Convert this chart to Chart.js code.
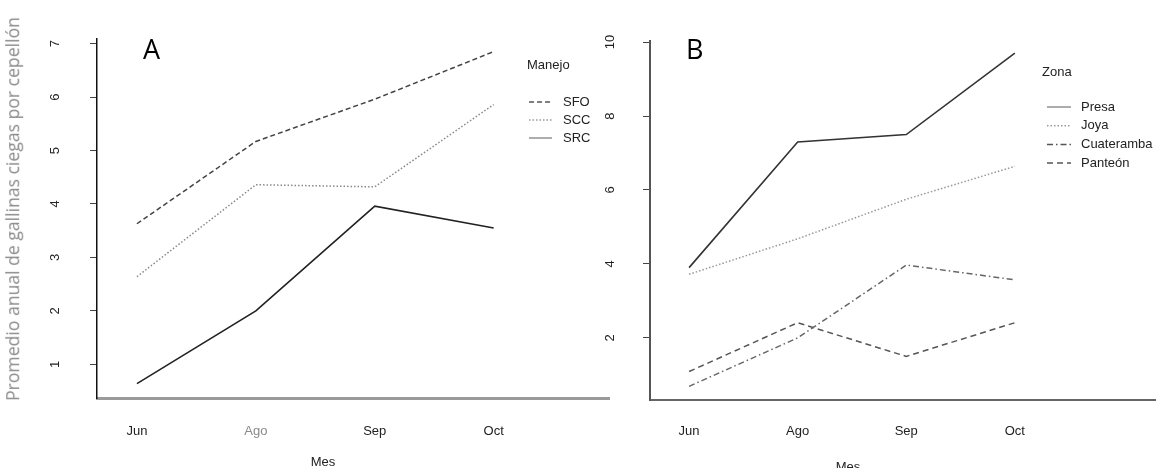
<!DOCTYPE html>
<html>
<head>
<meta charset="utf-8">
<script src="https://cdn.jsdelivr.net/npm/chart.js@4.4.1/dist/chart.umd.min.js"></script>
<style>
    body { margin: 0; background: #fff; width: 1156px; height: 468px; overflow: hidden; position: relative; }
    .panel { position: absolute; top: 0; }
    .txt { position: absolute; white-space: nowrap; }
    .letter { font-family: "Open Sans", sans-serif; font-size: 27px; line-height: 27px; color: #000; }
    .mes { line-height: 1; color: #222; transform: translate(-50%, -50%); }
    .ytitle { font-family: "Open Sans", sans-serif; font-size: 17.6px; line-height: 1; color: #8a8a8a; transform: translate(-50%, -50%) rotate(-90deg); }
</style>
</head>
<body>
<div class="panel" style="left:0;width:620px;height:468px"><canvas id="chartA" width="620" height="468"></canvas></div>
<div class="panel" style="left:580px;width:576px;height:468px"><canvas id="chartB" width="576" height="468"></canvas></div>
<div class="txt letter" style="left:143px;top:35px">A</div>
<div class="txt letter" style="left:686px;top:35px">B</div>
<div class="txt mes" style="left:323px;top:461px">Mes</div>
<div class="txt mes" style="left:848px;top:466px">Mes</div>
<div class="txt ytitle" style="left:13px;top:209px">Promedio anual de gallinas ciegas por cepellón</div>

<script>
// Meses (eje x)
const months = ['Jun', 'Ago', 'Sep', 'Oct'];

// Panel A - Manejo
const manejoLabels = ['SFO', 'SCC', 'SRC'];
const sfo = [3.63, 5.17, 5.96, 6.85];
const scc = [2.64, 4.36, 4.32, 5.86];
const src = [0.64, 2.0, 3.96, 3.55];
const yTicksA = [1, 2, 3, 4, 5, 6, 7];

// Panel B - Zona
const zonaLabels = ['Presa', 'Joya', 'Cuateramba', 'Panteón'];
const presa = [3.9, 7.3, 7.5, 9.7];
const joya = [3.72, 4.68, 5.75, 6.64];
const cuateramba = [0.69, 2.0, 3.97, 3.57];
const panteon = [1.09, 2.41, 1.5, 2.41];
const yTicksB = [2, 4, 6, 8, 10];

// Schmale Schrift nur nehmen, wenn sie wirklich installiert ist
function hasFont(name) {
    const c = document.createElement('canvas').getContext('2d');
    const s = 'Cuateramba Manejo 0123';
    c.font = '40px monospace';
    const a = c.measureText(s).width;
    c.font = '40px "' + name + '", monospace';
    return c.measureText(s).width !== a;
}
const narrowOk = hasFont('Liberation Sans Narrow');
const narrow = narrowOk ? '"Liberation Sans Narrow", sans-serif' : '"Liberation Sans", sans-serif';
const labelSize = narrowOk ? 15 : 13;

document.querySelectorAll('.mes').forEach(el => {
    el.style.fontFamily = narrow;
    el.style.fontSize = labelSize + 'px';
});

// Legende innerhalb der Zeichenfläche (wie in R)
const insideLegend = {
    id: 'insideLegend',
    afterDraw(chart, args, opts) {
        if (!opts || !opts.title) return;
        const ctx = chart.ctx;
        ctx.save();
        ctx.font = labelSize + 'px ' + narrow;
        ctx.fillStyle = '#222';
        ctx.textBaseline = 'middle';
        ctx.textAlign = 'left';
        ctx.fillText(opts.title, opts.x, opts.titleY);
        chart.data.datasets.forEach((ds, i) => {
            const y = opts.y + i * opts.rowH;
            ctx.beginPath();
            ctx.setLineDash(ds.borderDash || []);
            ctx.strokeStyle = opts.sampleColor[i] || ds.borderColor;
            ctx.lineWidth = ds.borderWidth;
            ctx.moveTo(opts.sampleX, y);
            ctx.lineTo(opts.sampleX + opts.sampleW, y);
            ctx.stroke();
            ctx.setLineDash([]);
            ctx.fillText(ds.label, opts.textX, y);
        });
        ctx.restore();
    }
};

function toPoints(values) {
    return values.map((v, i) => ({ x: i + 1, y: v }));
}

function lineSet(label, values, color, dash, width) {
    return {
        label: label,
        data: toPoints(values),
        borderColor: color,
        borderDash: dash,
        borderWidth: width,
        pointRadius: 0,
        tension: 0,
        fill: false
    };
}

function xScale(min, max, height, pad, border) {
    return {
        type: 'linear',
        min: min,
        max: max,
        afterBuildTicks: s => { s.ticks = months.map((m, i) => ({ value: i + 1 })); },
        afterFit: s => { s.height = height; },
        ticks: {
            autoSkip: false,
            maxRotation: 0,
            padding: pad,
            font: { family: narrow, size: labelSize },
            color: border.agoGray ? (c => c.index === 1 ? '#8a8a8a' : '#222') : '#222',
            callback: v => months[v - 1]
        },
        grid: { display: false, drawTicks: false },
        border: { display: true, color: border.color, width: border.width }
    };
}

function yScale(min, max, ticksArr, width, pad, border) {
    return {
        type: 'linear',
        min: min,
        max: max,
        afterBuildTicks: s => { s.ticks = ticksArr.map(v => ({ value: v })); },
        afterFit: s => { s.width = width; },
        ticks: {
            minRotation: 90,
            maxRotation: 90,
            crossAlign: 'center',
            padding: pad,
            font: { family: narrow, size: labelSize },
            color: '#222'
        },
        grid: { display: true, drawOnChartArea: false, drawTicks: true, tickLength: 7, color: '#444', lineWidth: 1 },
        border: { display: true, color: border.color, width: border.width }
    };
}

// Panel A
new Chart(document.getElementById('chartA'), {
    type: 'line',
    data: {
        datasets: [
            lineSet(manejoLabels[0], sfo, '#444', [5, 3], 1.5),
            lineSet(manejoLabels[1], scc, '#888', [1.5, 2], 1.5),
            lineSet(manejoLabels[2], src, '#222', [], 1.6)
        ]
    },
    options: {
        responsive: false,
        animation: false,
        layout: { padding: { top: 34, right: 11, bottom: 0, left: 0 } },
        plugins: {
            legend: { display: false },
            tooltip: { enabled: false },
            insideLegend: {
                title: 'Manejo', x: 527, titleY: 65,
                sampleX: 529, sampleW: 23, textX: 563,
                y: 102, rowH: 18,
                sampleColor: ['#555', '#999', '#999']
            }
        },
        scales: {
            x: xScale(0.664, 4.97, 70, 26, { color: '#9a9a9a', width: 3, agoGray: true }),
            y: yScale(0.37, 7.09, yTicksA, 97, 31, { color: '#111', width: 1.5 })
        }
    },
    plugins: [insideLegend]
});

// Panel B
new Chart(document.getElementById('chartB'), {
    type: 'line',
    data: {
        datasets: [
            lineSet(zonaLabels[0], presa, '#333', [], 1.6),
            lineSet(zonaLabels[1], joya, '#999', [1.5, 2], 1.5),
            lineSet(zonaLabels[2], cuateramba, '#666', [6, 3, 1.5, 3], 1.5),
            lineSet(zonaLabels[3], panteon, '#555', [6, 4], 1.5)
        ]
    },
    options: {
        responsive: false,
        animation: false,
        layout: { padding: { top: 41, right: 0, bottom: 0, left: 0 } },
        plugins: {
            legend: { display: false },
            tooltip: { enabled: false },
            insideLegend: {
                title: 'Zona', x: 462, titleY: 72,
                sampleX: 467, sampleW: 24, textX: 501,
                y: 107, rowH: 18.7,
                sampleColor: ['#999', '#999', '#555', '#555']
            }
        },
        scales: {
            x: xScale(0.64, 5.30, 68, 24, { color: '#666', width: 2 }),
            y: yScale(0.32, 10.03, yTicksB, 70, 25, { color: '#555', width: 2 })
        }
    },
    plugins: [insideLegend]
});
</script>
</body>
</html>
